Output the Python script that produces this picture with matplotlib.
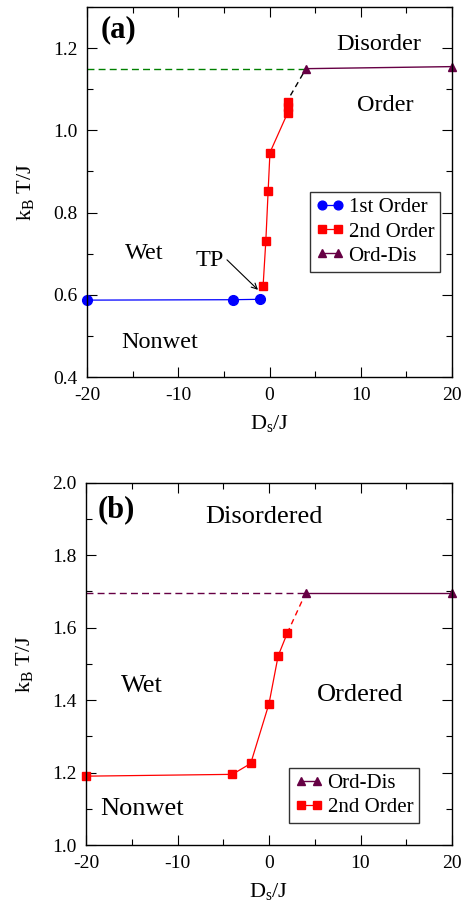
import matplotlib
matplotlib.use("Agg")
import matplotlib.pyplot as plt
from matplotlib.ticker import MultipleLocator

plt.rcParams['font.family'] = ['Liberation Serif', 'DejaVu Serif']
plt.rcParams['mathtext.fontset'] = 'custom'
plt.rcParams['mathtext.rm'] = 'Liberation Serif'
plt.rcParams['mathtext.it'] = 'Liberation Serif'
plt.rcParams['axes.unicode_minus'] = False

# ---------- data panel (a) ----------
a_first_x = [-20, -4, -1]
a_first_y = [0.587, 0.588, 0.589]
a_second_x = [-0.7, -0.4, -0.15, 0.05, 2, 2, 2]
a_second_y = [0.622, 0.732, 0.852, 0.946, 1.043, 1.056, 1.068]
a_orddis_x = [4, 20]
a_orddis_y = [1.150, 1.155]
a_dash_x = [-20, 4]
a_dash_y = [1.150, 1.150]
a_link_x = [2.3, 4]
a_link_y = [1.085, 1.150]

# ---------- data panel (b) ----------
b_second_x = [-20, -4, -2, 0, 1, 2]
b_second_y = [1.190, 1.195, 1.225, 1.390, 1.522, 1.585]
b_orddis_x = [4, 20]
b_orddis_y = [1.695, 1.695]
b_dash_x = [-20, 4]
b_dash_y = [1.695, 1.695]
b_link_x = [2, 4]
b_link_y = [1.585, 1.695]

blue = '#0000ff'
red = '#ff0000'
purple = '#660044'
green = '#008000'

fig = plt.figure(figsize=(4.66, 9.09), dpi=100)
axA = fig.add_axes([87/466, 1-377/909, 365/466, 370/909])
axB = fig.add_axes([86/466, 1-845/909, 366/466, 362.3/909])

def style(ax, ylim, ymaj, ymin):
    ax.set_xlim(-20, 20)
    ax.set_ylim(*ylim)
    ax.xaxis.set_major_locator(MultipleLocator(10))
    ax.xaxis.set_minor_locator(MultipleLocator(5))
    ax.yaxis.set_major_locator(MultipleLocator(ymaj))
    ax.yaxis.set_minor_locator(MultipleLocator(ymin))
    ax.tick_params(which='both', direction='in', top=True, right=True, labelsize=14, width=0.8)
    ax.tick_params(which='major', length=7, pad=7)
    ax.tick_params(which='minor', length=4)
    for s in ax.spines.values():
        s.set_linewidth(1.0)
    ax.set_xlabel(r'D$_{\rm s}$/J', fontsize=16, labelpad=7)
    ax.set_ylabel(r'k$_{\rm B}$ T/J', fontsize=16, labelpad=12)

legkw = dict(loc='upper left', numpoints=2, fontsize=15, frameon=True, fancybox=False,
             edgecolor='black', handlelength=1.37, handletextpad=0.2, borderpad=0.28,
             labelspacing=0.22, borderaxespad=0, markerscale=0.9)

# ----- panel a -----
ax = axA
style(ax, (0.4, 1.3), 0.2, 0.1)
ax.plot(a_dash_x, a_dash_y, '--', color=green, lw=1.0, dashes=(5, 3))
ax.plot(a_link_x, a_link_y, '--', color='black', lw=1.0, dashes=(4, 3))
ax.plot(a_first_x, a_first_y, '-o', color=blue, lw=0.9, ms=7, label='1st Order', clip_on=False)
ax.plot(a_second_x, a_second_y, '-s', color=red, lw=0.9, ms=6, label='2nd Order', clip_on=False)
ax.plot(a_orddis_x, a_orddis_y, '-^', color=purple, lw=1.0, ms=6, label='Ord-Dis', clip_on=False)
leg = ax.legend(bbox_to_anchor=(223/365, 1-185/370), **legkw)
leg.get_frame().set_linewidth(1.0)
ax.text(-18.5, 1.245, '(a)', fontsize=22, fontweight='bold', ha='left', va='center')
ax.text(12, 1.21, 'Disorder', fontsize=17.5, ha='center', va='center')
ax.text(12.7, 1.06, 'Order', fontsize=17.5, ha='center', va='center')
ax.text(-13.7, 0.70, 'Wet', fontsize=17.5, ha='center', va='center')
ax.text(-12, 0.485, 'Nonwet', fontsize=17.5, ha='center', va='center')
ax.text(-6.6, 0.683, 'TP', fontsize=17.5, ha='center', va='center')
ax.annotate('', xy=(-1.26, 0.612), xytext=(-4.66, 0.685),
            arrowprops=dict(arrowstyle='->', color='black', lw=0.8, shrinkA=0, shrinkB=0))

# ----- panel b -----
ax = axB
style(ax, (1.0, 2.0), 0.2, 0.1)
ax.plot(b_dash_x, b_dash_y, '--', color=purple, lw=1.0, dashes=(5, 3))
ax.plot(b_link_x, b_link_y, '--', color=red, lw=1.0, dashes=(4, 3))
ax.plot(b_orddis_x, b_orddis_y, '-^', color=purple, lw=1.0, ms=6, label='Ord-Dis', clip_on=False)
ax.plot(b_second_x, b_second_y, '-s', color=red, lw=0.9, ms=6, label='2nd Order', clip_on=False)
leg = ax.legend(bbox_to_anchor=(203/366, 1-285/362.3), **legkw)
leg.get_frame().set_linewidth(1.0)
ax.text(-18.7, 1.925, '(b)', fontsize=22, fontweight='bold', ha='left', va='center')
ax.text(-0.6, 1.905, 'Disordered', fontsize=19, ha='center', va='center')
ax.text(-13.9, 1.44, 'Wet', fontsize=19, ha='center', va='center')
ax.text(10, 1.415, 'Ordered', fontsize=19, ha='center', va='center')
ax.text(-13.9, 1.10, 'Nonwet', fontsize=19, ha='center', va='center')

fig.savefig('out.png', dpi=100)
